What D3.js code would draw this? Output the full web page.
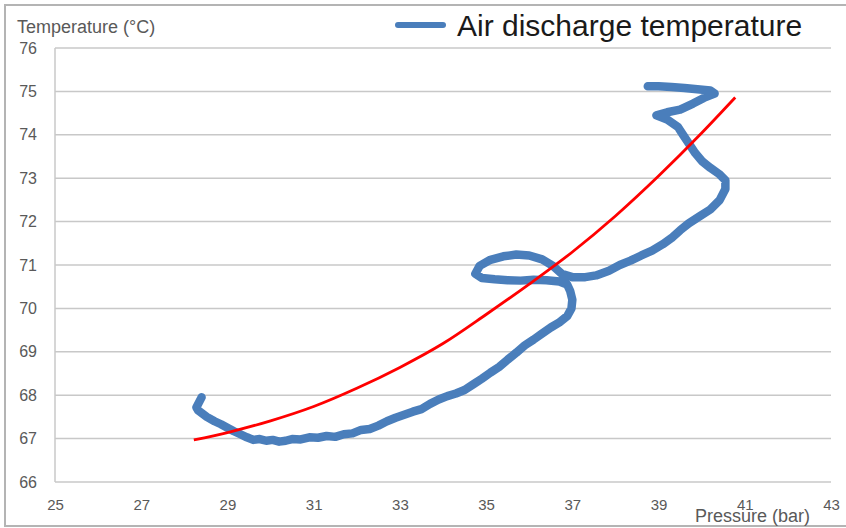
<!DOCTYPE html>
<html>
<head>
<meta charset="utf-8">
<script src="https://cdn.jsdelivr.net/npm/d3@7"></script>
<style>
  html, body { margin: 0; padding: 0; background: #fff; }
  svg { display: block; }
  text { font-family: "Liberation Sans", Arial, sans-serif; }
</style>
</head>
<body>
<svg id="chart" width="846" height="528"></svg>
<script>
// ---- Data ----
const xTicks = [25, 27, 29, 31, 33, 35, 37, 39, 41, 43];
const yTicks = [66, 67, 68, 69, 70, 71, 72, 73, 74, 75, 76];
const xTitle = "Pressure (bar)";
const yTitle = "Temperature (°C)";
const seriesName = "Air discharge temperature";

// Measured air discharge temperature (pressure bar, temperature °C)
const measuredPressure = [
  28.40, 28.28, 28.32, 28.52, 28.70, 28.85, 29.02, 29.15, 29.30, 29.45,
  29.60, 29.75, 29.90, 30.05, 30.20, 30.35, 30.50, 30.70, 30.90, 31.10,
  31.30, 31.50, 31.70, 31.90, 32.10, 32.30, 32.50, 32.70, 32.90, 33.10,
  33.30, 33.50, 33.70, 33.90, 34.10, 34.30, 34.50, 34.70, 34.90, 35.10,
  35.30, 35.50, 35.70, 35.90, 36.10, 36.30, 36.50, 36.70, 36.88, 36.98,
  37.00, 36.95, 36.88, 36.70, 36.40, 36.10, 35.80, 35.50, 35.20, 34.90,
  34.75, 34.85, 35.10, 35.40, 35.70, 36.00, 36.30, 36.55, 36.75, 37.00,
  37.30, 37.55, 37.85, 38.10, 38.35, 38.60, 38.85, 39.10, 39.30, 39.50,
  39.70, 39.95, 40.20, 40.42, 40.55, 40.55, 40.40, 40.20, 40.02, 39.85,
  39.70, 39.58, 39.45, 39.20, 38.95, 39.20, 39.50, 39.80, 40.05, 40.30,
  40.20, 39.90, 39.60, 39.30, 39.00, 38.75
];
const measuredTemp = [
  67.95, 67.72, 67.65, 67.50, 67.40, 67.33, 67.24, 67.17, 67.10, 67.03,
  66.97, 66.99, 66.95, 66.97, 66.93, 66.95, 66.99, 66.98, 67.03, 67.02,
  67.06, 67.04, 67.10, 67.12, 67.20, 67.22, 67.30, 67.40, 67.48, 67.55,
  67.62, 67.68, 67.80, 67.90, 67.98, 68.04, 68.12, 68.25, 68.38, 68.52,
  68.65, 68.82, 68.98, 69.15, 69.28, 69.42, 69.56, 69.68, 69.82, 70.00,
  70.20, 70.40, 70.55, 70.62, 70.65, 70.66, 70.64, 70.65, 70.67, 70.70,
  70.80, 70.98, 71.12, 71.20, 71.24, 71.22, 71.13, 70.98, 70.80, 70.72,
  70.72, 70.76, 70.87, 71.00, 71.10, 71.22, 71.33, 71.48, 71.62, 71.80,
  71.96, 72.12, 72.28, 72.50, 72.75, 72.95, 73.10, 73.24, 73.38, 73.58,
  73.80, 73.98, 74.18, 74.35, 74.45, 74.52, 74.58, 74.72, 74.85, 74.95,
  75.02, 75.05, 75.08, 75.10, 75.12, 75.12
];

// Fitted trend (red)
const trendPressure = [28.22, 29.0, 30.0, 31.0, 32.0, 33.0, 34.0, 35.0, 36.0, 37.0, 38.0, 39.0, 40.0, 40.78];
const trendTemp     = [66.97, 67.14, 67.41, 67.74, 68.16, 68.64, 69.19, 69.86, 70.56, 71.30, 72.13, 73.05, 74.04, 74.86];

// ---- Layout ----
const svg = d3.select("#chart");
const W = 846, H = 528;
const plot = { left: 55, right: 831, top: 48, bottom: 482 };

const x = d3.scaleLinear().domain([25, 43]).range([plot.left, plot.right]);
const y = d3.scaleLinear().domain([66, 76]).range([plot.bottom, plot.top]);

// outer chart border
svg.append("rect")
  .attr("x", 5).attr("y", 5).attr("width", W + 20).attr("height", 521)
  .attr("fill", "none").attr("stroke", "#b4b4b4").attr("stroke-width", 2);

// horizontal gridlines
svg.append("g").selectAll("line").data(yTicks).join("line")
  .attr("x1", plot.left).attr("x2", plot.right)
  .attr("y1", d => y(d)).attr("y2", d => y(d))
  .attr("stroke", "#c8c8c8").attr("stroke-width", 1.5);

// left axis line
svg.append("line")
  .attr("x1", plot.left).attr("x2", plot.left)
  .attr("y1", plot.top).attr("y2", plot.bottom)
  .attr("stroke", "#c8c8c8").attr("stroke-width", 1.5);

// y tick labels
const yAxis = d3.axisLeft(y).tickValues(yTicks).tickSize(0).tickPadding(18).tickFormat(d3.format("d"));
const gy = svg.append("g").attr("transform", `translate(${plot.left},0)`).call(yAxis);
gy.select(".domain").remove();
gy.selectAll("text").attr("fill", "#595959").attr("font-size", 16)
  .attr("font-family", "'Liberation Sans', Arial, sans-serif");

// x tick labels
const xAxis = d3.axisBottom(x).tickValues(xTicks).tickSize(0).tickPadding(0).tickFormat(d3.format("d"));
const gx = svg.append("g").attr("transform", `translate(0,${plot.bottom})`).call(xAxis);
gx.select(".domain").remove();
gx.selectAll("text").attr("fill", "#595959").attr("font-size", 15)
  .attr("dy", null).attr("y", 28)
  .attr("font-family", "'Liberation Sans', Arial, sans-serif");

// axis titles
svg.append("text").attr("x", 17).attr("y", 33).text(yTitle)
  .attr("fill", "#595959").attr("font-size", 18);
svg.append("text").attr("x", 695).attr("y", 522).text(xTitle)
  .attr("fill", "#595959").attr("font-size", 18);

// measured series
const measured = measuredPressure.map((p, i) => [p, measuredTemp[i]]);
const line = d3.line().x(d => x(d[0])).y(d => y(d[1])).curve(d3.curveLinear);
svg.append("path").datum(measured)
  .attr("d", line)
  .attr("fill", "none").attr("stroke", "#4a7ebb").attr("stroke-width", 8.5)
  .attr("stroke-linejoin", "round").attr("stroke-linecap", "round");

// trend line
const trend = trendPressure.map((p, i) => [p, trendTemp[i]]);
svg.append("path").datum(trend)
  .attr("d", d3.line().x(d => x(d[0])).y(d => y(d[1])).curve(d3.curveMonotoneX))
  .attr("fill", "none").attr("stroke", "#ff0000").attr("stroke-width", 2.8);

// legend
svg.append("line").attr("x1", 398).attr("x2", 443).attr("y1", 25).attr("y2", 25)
  .attr("stroke", "#4a7ebb").attr("stroke-width", 6).attr("stroke-linecap", "round");
svg.append("text").attr("x", 457).attr("y", 36).text(seriesName)
  .attr("fill", "#1a1a1a").attr("font-size", 30);
</script>
</body>
</html>
